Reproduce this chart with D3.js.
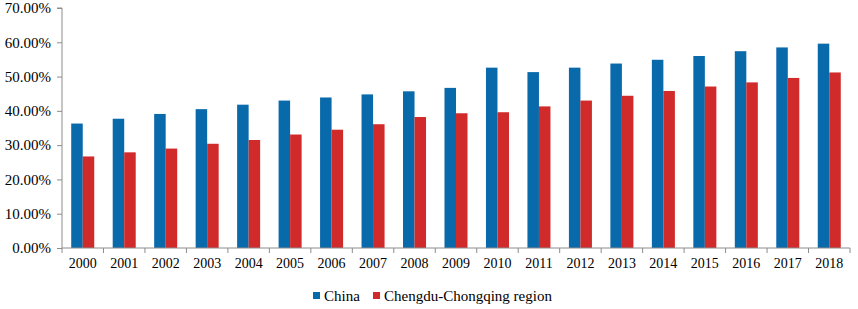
<!DOCTYPE html>
<html>
<head>
<meta charset="utf-8">
<script src="https://cdn.jsdelivr.net/npm/d3@7"></script>
<style>
  body { margin: 0; background: #fff; }
  #chart text { font-family: 'Liberation Serif', 'DejaVu Serif', serif; fill: #000; }
</style>
</head>
<body>
<svg id="chart"></svg>
<script>
const years = ["2000", "2001", "2002", "2003", "2004", "2005", "2006", "2007", "2008", "2009",
               "2010", "2011", "2012", "2013", "2014", "2015", "2016", "2017", "2018"];
const china = [36.3, 37.7, 39.1, 40.5, 41.8, 43.0, 43.9, 44.8, 45.7, 46.7,
               52.6, 51.3, 52.6, 53.8, 54.9, 56.0, 57.4, 58.5, 59.6];
const chengdu = [26.7, 27.9, 29.0, 30.4, 31.5, 33.1, 34.5, 36.1, 38.2, 39.3,
                 39.6, 41.3, 43.0, 44.4, 45.8, 47.1, 48.3, 49.6, 51.2];
const seriesNames = ["China", "Chengdu-Chongqing region"];
const seriesColors = ["#0869ab", "#d12a2b"];
const yTicks = [0, 10, 20, 30, 40, 50, 60, 70];

const width = 858, height = 309;
const margin = { top: 8, right: 8, bottom: 61, left: 62 };
const serif = "'Liberation Serif', 'DejaVu Serif', serif";

const svg = d3.select("#chart").attr("width", width).attr("height", height);

const x = d3.scaleBand()
    .domain(years)
    .range([margin.left, width - margin.right])
    .paddingInner(0.445)
    .paddingOuter(0.2225);

const x1 = d3.scaleBand()
    .domain(seriesNames)
    .range([0, x.bandwidth()]);

const y = d3.scaleLinear()
    .domain([0, 70])
    .range([height - margin.bottom, margin.top]);

const rows = years.map((yr, i) => ({ year: yr, values: [china[i], chengdu[i]] }));

const groups = svg.append("g")
    .selectAll("g")
    .data(rows)
    .join("g")
    .attr("transform", d => `translate(${x(d.year)},0)`);

groups.selectAll("rect")
    .data(d => d.values.map((v, k) => ({ name: seriesNames[k], value: v, color: seriesColors[k] })))
    .join("rect")
    .attr("x", d => x1(d.name))
    .attr("width", x1.bandwidth())
    .attr("y", d => y(d.value))
    .attr("height", d => y(0) - y(d.value))
    .attr("fill", d => d.color);

// y axis
const yAxis = svg.append("g")
    .attr("transform", `translate(${margin.left},0)`)
    .call(d3.axisLeft(y).tickValues(yTicks).tickSize(5).tickPadding(6)
        .tickFormat(d => d.toFixed(2) + "%"));
yAxis.attr("font-family", serif);
yAxis.selectAll("text").style("font-family", serif).style("font-size", "15px");
yAxis.selectAll("line, path").attr("stroke", "#8c8c8c");
yAxis.select(".domain").attr("d", `M-5,${y(70)}H0V${y(0)}`);

// x axis: ticks between categories
const xAxisG = svg.append("g")
    .attr("transform", `translate(0,${y(0)})`);
xAxisG.append("line")
    .attr("x1", margin.left).attr("x2", width - margin.right)
    .attr("stroke", "#8c8c8c");
const step = x.step();
const bounds = years.map(yr => x(yr) - (step - x.bandwidth()) / 2);
bounds.push(width - margin.right);
xAxisG.selectAll(".tk")
    .data(bounds)
    .join("line")
    .attr("class", "tk")
    .attr("x1", d => d).attr("x2", d => d)
    .attr("y1", 0).attr("y2", 5)
    .attr("stroke", "#8c8c8c");
xAxisG.selectAll(".lbl")
    .data(years)
    .join("text")
    .attr("class", "lbl")
    .attr("x", d => x(d) + x.bandwidth() / 2)
    .attr("y", 20)
    .attr("text-anchor", "middle")
    .style("font-family", serif)
    .style("font-size", "14px")
    .text(d => d);

// legend
const legend = svg.append("g").attr("transform", "translate(313,296)");
const legendX = [0, 60];
seriesNames.forEach((name, k) => {
    const g = legend.append("g").attr("transform", `translate(${legendX[k]},0)`);
    g.append("rect").attr("x", 0).attr("y", -4).attr("width", 7).attr("height", 7)
        .attr("fill", seriesColors[k]);
    g.append("text").attr("x", 11).attr("y", 5)
        .style("font-family", serif).style("font-size", "15px").text(name);
});
</script>
</body>
</html>
